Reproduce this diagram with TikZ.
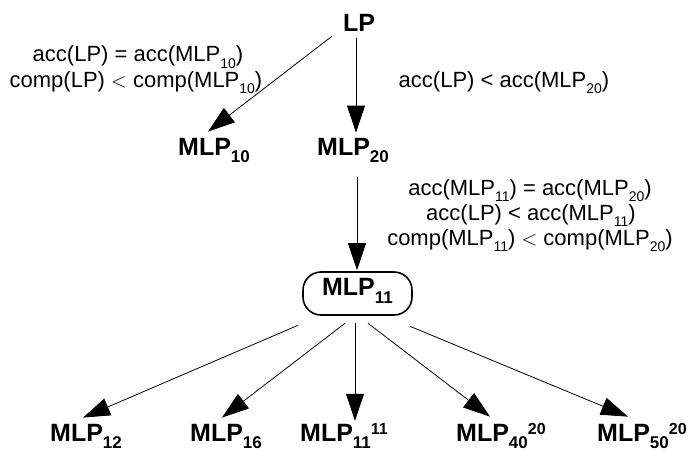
\documentclass[tikz,border=0pt]{standalone}
\usepackage{fontspec}
\setmainfont{Liberation Sans}
\usetikzlibrary{arrows.meta}
\newcommand\lsub[1]{\raisebox{-6pt}{\fontsize{14}{14}\selectfont #1}}
\newcommand\bsub[1]{\raisebox{-7.5pt}{\fontsize{17}{17}\selectfont\bfseries #1}}
\newcommand\bsup[1]{\raisebox{7pt}{\fontsize{16}{16}\selectfont\bfseries #1}}
\begin{document}
\begin{tikzpicture}[x=1pt,y=-1pt,
  lab/.style={anchor=base, inner sep=0pt, font=\fontsize{22}{25}\selectfont},
  nd/.style={anchor=base west, inner sep=0pt, font=\fontsize{25}{28}\selectfont\bfseries},
  mbox/.style={draw, line width=1.6pt, rounded corners=18pt, minimum width=109pt,
    minimum height=43pt, inner sep=0pt, text height=13pt, text depth=9pt,
    font=\fontsize{25}{28}\selectfont\bfseries},
  arr/.style={draw, line width=0.8pt, -{Triangle[length=27pt,width=18pt]}}]
\useasboundingbox (0,0) rectangle (696,452);
% nodes
\node[nd] (LP) at (343,32) {LP};
\node[nd] (M10) at (178,155) {MLP\bsub{10}};
\node[nd] (M20) at (317,155) {MLP\bsub{20}};
\node[mbox] (M11) at (357.5,293.5) {MLP\bsub{11}};
\node[nd] (M12) at (50,441) {MLP\bsub{12}};
\node[nd] (M16) at (190,441) {MLP\bsub{16}};
\node[nd] (M1111) at (300,441) {MLP\bsub{11}\bsup{11}};
\node[nd] (M40) at (456,441) {MLP\bsub{40}\bsup{20}};
\node[nd] (M50) at (597,441) {MLP\bsub{50}\bsup{20}};
% labels
\node[lab] (t1a) at (138,62) {acc(LP) = acc(MLP\lsub{10})};
\node[lab] (t1b) at (136,87) {comp(LP) $<$ comp(MLP\lsub{10})};
\node[lab] (t2) at (504,87) {acc(LP) < acc(MLP\lsub{20})};
\node[lab] (t3a) at (530,195) {acc(MLP\lsub{11}) = acc(MLP\lsub{20})};
\node[lab] (t3b) at (531,220) {acc(LP) < acc(MLP\lsub{11})};
\node[lab] (t3c) at (530,245) {comp(MLP\lsub{11}) $<$ comp(MLP\lsub{20})};
% connectors
\draw[arr] ([shift={(-11,4)}]LP.south west) -- ([shift={(30,-6)}]M10.north west);
\draw[arr] ([shift={(13,6)}]LP.south west) -- ([shift={(39,-5)}]M20.north west);
\draw[arr] ([shift={(40,14)}]M20.south west) -- ([shift={(-0.5,-1)}]M11.north);
\draw[arr] ([shift={(-59.5,9.5)}]M11.south) -- ([shift={(33,-6)}]M12.north west);
\draw[arr] ([shift={(-12.5,7.5)}]M11.south) -- ([shift={(32,-6)}]M16.north west);
\draw[arr] ([shift={(-2.5,7.5)}]M11.south) -- ([shift={(55,-2)}]M1111.north west);
\draw[arr] ([shift={(10.5,7.5)}]M11.south) -- ([shift={(34,-6)}]M40.north west);
\draw[arr] ([shift={(52.5,10.5)}]M11.south) -- ([shift={(31,-6)}]M50.north west);
\end{tikzpicture}
\end{document}
